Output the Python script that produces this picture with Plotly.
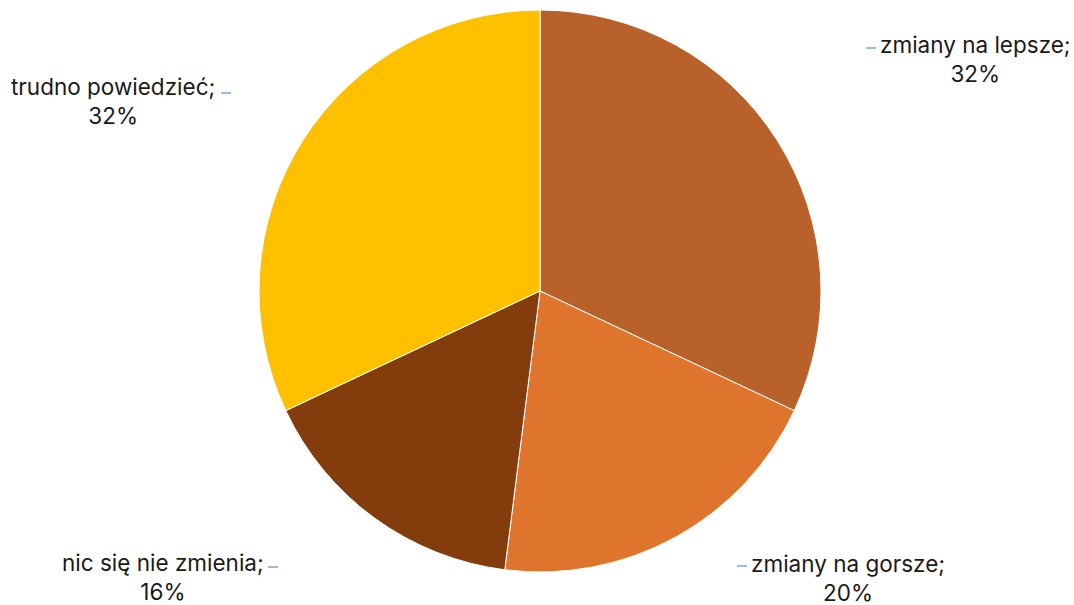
import plotly.graph_objects as go

# Survey answers and their shares (%)
categories = ["zmiany na lepsze", "zmiany na gorsze", "nic się nie zmienia", "trudno powiedzieć"]
shares = [32, 20, 16, 32]
colors = ["#B8612A", "#DF742C", "#843C0C", "#FFC000"]

W, H = 1074, 605
cx, cy, r = 540, 291, 281

fig = go.Figure(
    go.Pie(
        labels=categories,
        values=shares,
        sort=False,
        direction="clockwise",
        rotation=0,
        marker=dict(colors=colors, line=dict(color="#ffffff", width=1)),
        textinfo="none",
        hoverinfo="label+percent",
        showlegend=False,
        domain=dict(x=[(cx - r) / W, (cx + r) / W], y=[1 - (cy + r) / H, 1 - (cy - r) / H]),
    )
)

# Label block centres (px) and leader-dash positions (px)
label_pos = [(975, 59), (848, 578), (163, 577), (113, 101)]
dash_pos = [(866, 48), (737, 566), (268, 567), (221, 93)]

annotations = []
shapes = []
for name, val, (lx, ly), (dx, dy) in zip(categories, shares, label_pos, dash_pos):
    annotations.append(dict(
        x=lx / W, y=1 - ly / H, xref="paper", yref="paper",
        text=f"{name};<br>{val}%", showarrow=False, align="center",
        xanchor="center", yanchor="middle",
        font=dict(family="Inter, Roboto, sans-serif", size=22.5, color="#1a1a1a"),
    ))
    shapes.append(dict(
        type="line", xref="paper", yref="paper",
        x0=dx / W, x1=(dx + 10) / W, y0=1 - dy / H, y1=1 - dy / H,
        line=dict(color="#7EA6D8", width=1.5),
    ))

fig.update_layout(
    width=W, height=H,
    margin=dict(l=0, r=0, t=0, b=0),
    paper_bgcolor="#ffffff", plot_bgcolor="#ffffff",
    annotations=annotations, shapes=shapes,
)

fig.write_html("out.html")
